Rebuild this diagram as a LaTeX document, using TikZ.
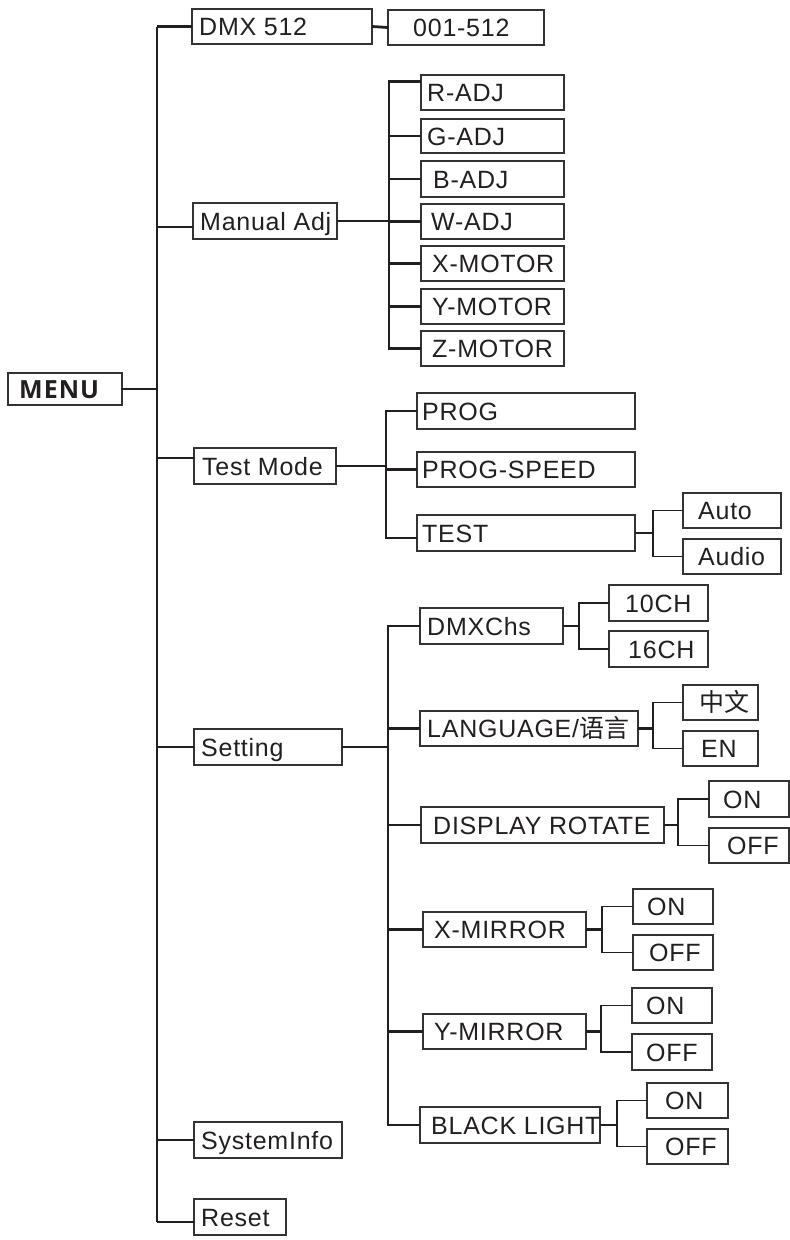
\documentclass[tikz,border=0pt]{standalone}
\usepackage{fontspec}
\setmainfont{Liberation Sans}[LetterSpace=3]
\newfontfamily\menufont{Open Sans}[LetterSpace=4]
\newfontfamily\cjk{Noto Sans CJK SC}
\definecolor{linec}{HTML}{231F20}
\definecolor{boxc}{HTML}{333333}
\definecolor{txtc}{HTML}{231F20}
\tikzset{
  box/.style={draw=boxc, line width=1.4pt, rectangle, inner sep=0pt, outer sep=0pt},
  lab/.style={anchor=west, inner sep=0pt, text height=18pt, text depth=0pt,
    font=\fontsize{25}{30}\selectfont, text=txtc},
  conn/.style={draw=linec, line width=2.8pt},
  thinl/.style={draw=linec, line width=1.6pt},
  trunk/.style={draw=linec, line width=2.2pt},
}
\newcommand\mybox[7]{%
  \node[box, minimum width={#4-#2}, minimum height={#5-#3}] (#1) at ({(#2+#4)/2},{(#3+#5)/2}) {};
  \node[lab] (#1-t) at (#6,{(#3+#5)/2}) {#7};
}
\begin{document}
\begin{tikzpicture}[x=1pt,y=-1pt]
\useasboundingbox (0,0) rectangle (790,1240);
% boxes
\mybox{menu}{8}{373}{122}{405}{19}{\menufont\bfseries MENU}
\mybox{dmx}{192}{9}{372}{44}{199}{DMX 512}
\mybox{num}{388}{10}{544}{45}{413}{001-512}
\mybox{man}{193}{203}{337}{239}{200}{Manual Adj}
\mybox{radj}{421}{75}{564}{110}{427}{R-ADJ}
\mybox{gadj}{421}{119}{564}{153}{427}{G-ADJ}
\mybox{badj}{421}{161}{564}{197}{433}{B-ADJ}
\mybox{wadj}{421}{204}{564}{239}{431}{W-ADJ}
\mybox{xmot}{421}{246}{564}{281}{432}{X-MOTOR}
\mybox{ymot}{421}{289}{564}{324}{432}{Y-MOTOR}
\mybox{zmot}{421}{331}{564}{366}{432}{Z-MOTOR}
\mybox{test}{194}{448}{336}{484}{202}{Test Mode}
\mybox{prog}{417}{393}{635}{429}{422}{PROG}
\mybox{pspd}{417}{452}{635}{487}{422}{PROG-SPEED}
\mybox{tst}{417}{515}{635}{551}{422}{TEST}
\mybox{auto}{683}{493}{781}{528}{698}{Auto}
\mybox{audio}{683}{539}{781}{574}{698}{Audio}
\mybox{set}{194}{729}{342}{765}{201}{Setting}
\mybox{dmxc}{420}{608}{563}{644}{427}{DMXChs}
\mybox{c10}{609}{585}{708}{621}{625}{10CH}
\mybox{c16}{609}{631}{708}{667}{628}{16CH}
\mybox{lang}{420}{711}{638}{746}{427}{LANGUAGE/{\cjk 语言}}
\mybox{zh}{683}{685}{758}{720}{699}{\cjk 中文}
\mybox{en}{683}{731}{758}{766}{701}{EN}
\mybox{disp}{421}{807}{664}{843}{433}{DISPLAY ROTATE}
\mybox{don}{709}{781}{789}{817}{723}{ON}
\mybox{doff}{709}{828}{789}{863}{727}{OFF}
\mybox{xm}{423}{912}{586}{947}{434}{X-MIRROR}
\mybox{xon}{633}{889}{713}{924}{647}{ON}
\mybox{xoff}{633}{935}{713}{970}{649}{OFF}
\mybox{ym}{423}{1014}{586}{1049}{434}{Y-MIRROR}
\mybox{yon}{632}{988}{712}{1023}{646}{ON}
\mybox{yoff}{632}{1034}{712}{1070}{646}{OFF}
\mybox{bl}{420}{1107}{600}{1143}{431}{BLACK LIGHT}
\mybox{bon}{647}{1083}{728}{1118}{665}{ON}
\mybox{boff}{647}{1129}{728}{1164}{665}{OFF}
\mybox{sys}{194}{1122}{342}{1158}{201}{SystemInfo}
\mybox{rst}{194}{1199}{286}{1235}{201}{Reset}
% bus coordinates
\coordinate (T) at (157,0);
\coordinate (MA) at (389,0);
\coordinate (TM) at (386,0);
\coordinate (TT) at (653,0);
\coordinate (ST) at (388,0);
\coordinate (DC) at (579,0);
\coordinate (LG) at (653,0);
\coordinate (DR) at (678,0);
\coordinate (XM) at (602,0);
\coordinate (YM) at (601,0);
\coordinate (BLb) at (617,0);
\coordinate (manc) at ([yshift=-6pt]man.west);
\coordinate (testc) at ([yshift=8pt]test.west);
\coordinate (rstc) at ([yshift=-5pt]rst.west);
\coordinate (radjc) at ([yshift=11pt]radj.west);
\coordinate (tstc) at ([yshift=-5pt]tst.west);
% main trunk
\draw[trunk] (dmx.west -| T) -- (rstc -| T);
\draw[conn] (menu.east) -- (menu.east -| T);
\draw[conn] (dmx.west) -- (dmx.west -| T);
\draw[conn] (manc) -- (manc -| T);
\draw[conn] (testc) -- (testc -| T);
\draw[conn] (set.west) -- (set.west -| T);
\draw[conn] (sys.west) -- (sys.west -| T);
\draw[conn] (rstc) -- (rstc -| T);
% DMX 512
\draw[conn] (dmx.east) -- (num.west);
% Manual Adj
\draw[trunk] (radjc) -- (radjc -| MA) -- (zmot.west -| MA) -- (zmot.west);
\draw[conn] (man.east) -- (man.east -| MA);
\foreach \n in {gadj,badj,wadj,xmot,ymot} \draw[conn] (\n.west) -- (\n.west -| MA);
% Test Mode
\draw[thinl] (prog.west) -- (prog.west -| TM) -- (tstc -| TM) -- (tstc);
\draw[conn] (test.east) -- (test.east -| TM);
\draw[conn] (pspd.west) -- (pspd.west -| TM);
\draw[thinl] (auto.west) -- (auto.west -| TT) -- (audio.west -| TT) -- (audio.west);
\draw[conn] (tst.east) -- (tst.east -| TT);
% Setting
\draw[conn] (dmxc.west) -- (dmxc.west -| ST) -- (bl.west -| ST) -- (bl.west);
\draw[conn] (set.east) -- (set.east -| ST);
\foreach \n in {lang,disp,xm,ym} \draw[conn] (\n.west) -- (\n.west -| ST);
% forks
\draw[thinl] (c10.west) -- (c10.west -| DC) -- (c16.west -| DC) -- (c16.west);
\draw[conn] (dmxc.east) -- (dmxc.east -| DC);
\draw[thinl] (zh.west) -- (zh.west -| LG) -- (en.west -| LG) -- (en.west);
\draw[conn] (lang.east) -- (lang.east -| LG);
\draw[thinl] (don.west) -- (don.west -| DR) -- (doff.west -| DR) -- (doff.west);
\draw[conn] (disp.east) -- (disp.east -| DR);
\draw[thinl] (xon.west) -- (xon.west -| XM) -- (xoff.west -| XM) -- (xoff.west);
\draw[conn] (xm.east) -- (xm.east -| XM);
\draw[thinl] (yon.west) -- (yon.west -| YM) -- (yoff.west -| YM) -- (yoff.west);
\draw[conn] (ym.east) -- (ym.east -| YM);
\draw[thinl] (bon.west) -- (bon.west -| BLb) -- (boff.west -| BLb) -- (boff.west);
\draw[conn] (bl.east) -- (bl.east -| BLb);
\end{tikzpicture}
\end{document}
